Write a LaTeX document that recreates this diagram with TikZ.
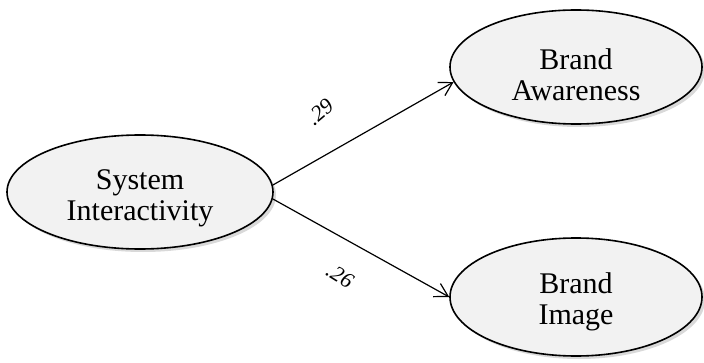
\documentclass[tikz,border=0pt]{standalone}
\usepackage{fontspec}
\setmainfont{Liberation Serif}
\usetikzlibrary{shapes.geometric,shadows,arrows.meta}
\begin{document}
\begin{tikzpicture}[x=1pt,y=1pt,
  construct/.style={ellipse, draw=black, line width=1.6pt, fill=black!5,
    inner sep=0pt,
    drop shadow={shadow xshift=3pt, shadow yshift=-3pt, opacity=0.25, fill=black!60}},
  constructname/.style={align=center, inner sep=0pt,
    font=\fontsize{30}{31}\selectfont},
  path/.style={line width=1.2pt, -{Straight Barb[length=13pt,width=15pt,line width=1.2pt]}},
  coef/.style={font=\fontsize{22}{24}\selectfont\itshape, inner sep=0pt}]
  \useasboundingbox (0,0) rectangle (704,362);
  % latent constructs
  \node[construct, minimum width=266pt, minimum height=114pt] (si) at (140,170) {};
  \node[construct, minimum width=252pt, minimum height=114pt] (ba) at (576,295) {};
  \node[construct, minimum width=252pt, minimum height=118pt] (bi) at (576,65) {};
  % construct names, set a little below centre
  \node[constructname] (sit) at ([yshift=-6pt]si.center) {System\\Interactivity};
  \node[constructname] (bat) at ([yshift=-8pt]ba.center) {Brand\\Awareness};
  \node[constructname] (bit) at ([yshift=-5pt]bi.center) {Brand\\Image};
  % structural paths with standardized coefficients
  \draw[path] (si.3) -- (ba.187);
  \draw[path] (si.-3) -- (bi.180);
  \node[coef, rotate=40] (c1) at (320,250) {.29};
  \node[coef, rotate=-32] (c2) at (340,86) {.26};
\end{tikzpicture}
\end{document}
